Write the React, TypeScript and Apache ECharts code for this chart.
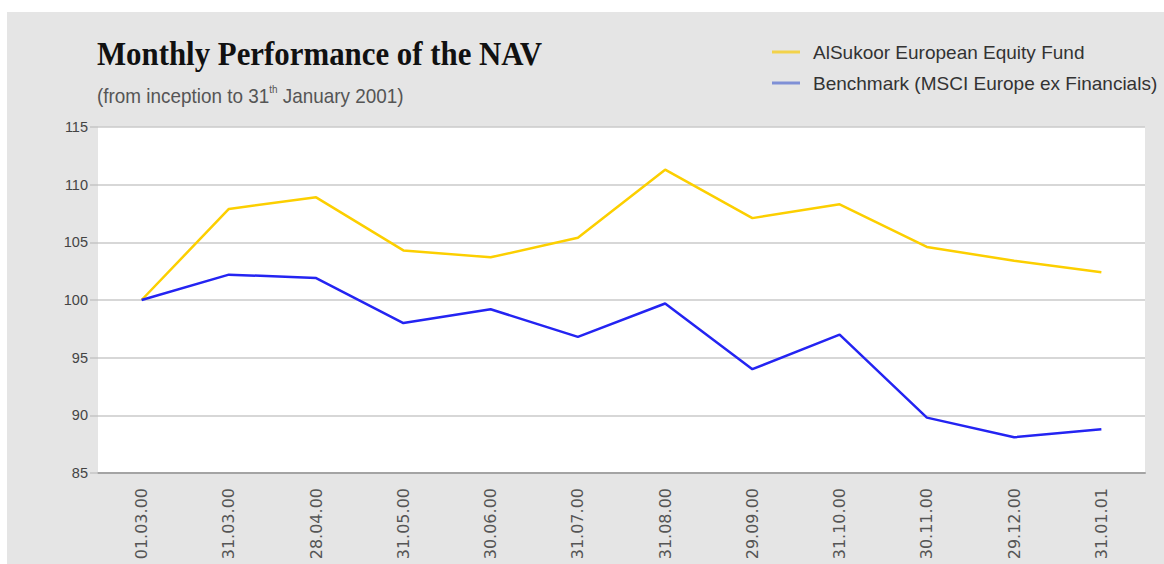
import React, { useEffect, useRef } from "react";
import * as echarts from "echarts";

const categories = ["01.03.00", "31.03.00", "28.04.00", "31.05.00", "30.06.00", "31.07.00", "31.08.00", "29.09.00", "31.10.00", "30.11.00", "29.12.00", "31.01.01"];
const fundValues = [100, 107.9, 108.9, 104.3, 103.7, 105.4, 111.3, 107.1, 108.3, 104.6, 103.4, 102.4];
const benchmarkValues = [100, 102.2, 101.9, 98.0, 99.2, 96.8, 99.7, 94.0, 97.0, 89.8, 88.1, 88.8];
const fundName = "AlSukoor European Equity Fund";
const benchName = "Benchmark (MSCI Europe ex Financials)";
const yMin = 85;
const yMax = 115;
const yStep = 5;

const SANS = "'Liberation Sans', Arial, sans-serif";

export default function App() {
  const ref = useRef<HTMLDivElement>(null);
  useEffect(() => {
    if (!ref.current) return;
    const chart = echarts.init(ref.current, undefined, { renderer: "svg" });
    chart.setOption({
      animation: false,
      backgroundColor: "#e5e5e5",
      graphic: [
        { type: "rect", shape: { x: 0, y: 0, width: 1164, height: 12 }, style: { fill: "#ffffff" }, silent: true },
        { type: "rect", shape: { x: 0, y: 0, width: 7, height: 564 }, style: { fill: "#ffffff" }, silent: true },
        {
          type: "text",
          x: 97,
          y: 54,
          scaleX: 0.935,
          style: {
            text: "Monthly Performance of the NAV",
            fontFamily: "'Liberation Serif', 'DejaVu Serif', serif",
            fontWeight: "bold",
            fontSize: 33,
            fill: "#111111",
            verticalAlign: "middle",
            align: "left",
          },
        },
        {
          type: "text",
          x: 97,
          y: 96,
          scaleX: 0.9,
          style: {
            text: "{a|(from inception to 31}{s|th}{a| January 2001)}",
            rich: {
              a: { fontFamily: SANS, fontSize: 21, fill: "#555555", color: "#555555", lineHeight: 24 },
              s: { fontFamily: SANS, fontSize: 11, fill: "#555555", color: "#555555", lineHeight: 24, verticalAlign: "top", padding: [0, 0, 10, 0] },
            },
            verticalAlign: "middle",
            align: "left",
          },
        },
      ],
      legend: {
        orient: "vertical",
        left: 767,
        top: 34,
        icon: "rect",
        itemWidth: 28,
        itemHeight: 3,
        itemGap: 5,
        textStyle: { fontFamily: SANS, fontSize: 19, color: "#333333", lineHeight: 26, padding: [0, 0, 0, 8] },
        data: [
          { name: fundName, itemStyle: { color: "#f2d24a" } },
          { name: benchName, itemStyle: { color: "#7f90d6" } },
        ],
      },
      grid: {
        left: 98,
        right: 19,
        top: 127,
        bottom: 91,
        show: true,
        backgroundColor: "#ffffff",
        borderWidth: 0,
        outerBoundsMode: "none",
        containLabel: false,
      },
      xAxis: {
        type: "category",
        data: categories,
        boundaryGap: true,
        axisLine: { show: true, lineStyle: { color: "#a4a4a4", width: 2 } },
        axisTick: { show: false },
        axisLabel: { rotate: 90, margin: 15, fontFamily: "'DejaVu Sans', sans-serif", fontSize: 16, color: "#555555", interval: 0 },
        splitLine: { show: false },
      },
      yAxis: {
        type: "value",
        min: yMin,
        max: yMax,
        interval: yStep,
        axisLine: { show: false },
        axisTick: { show: true, length: 8, lineStyle: { color: "#c4c4c4", width: 1.5 } },
        axisLabel: { margin: 10, fontFamily: SANS, fontSize: 14.5, color: "#444444" },
        splitLine: { show: true, lineStyle: { color: "#cacaca", width: 1.5 } },
      },
      series: [
        {
          name: fundName,
          type: "line",
          data: fundValues,
          symbol: "none",
          lineStyle: { color: "#fccf00", width: 2.5 },
          itemStyle: { color: "#fccf00" },
          z: 3,
        },
        {
          name: benchName,
          type: "line",
          data: benchmarkValues,
          symbol: "none",
          lineStyle: { color: "#2424f2", width: 2.5 },
          itemStyle: { color: "#2424f2" },
          z: 4,
        },
      ],
    });
    return () => chart.dispose();
  }, []);
  return <div ref={ref} style={{ position: "absolute", left: 0, top: 0, width: 1164, height: 564 }} />;
}
